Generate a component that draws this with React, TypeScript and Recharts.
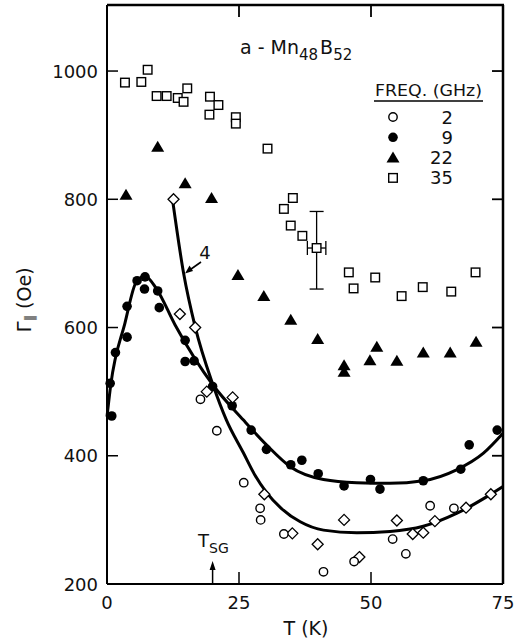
import { ComposedChart, Line, Scatter, XAxis, YAxis, ErrorBar } from 'recharts';

const FONT = '"DejaVu Sans", sans-serif';

// 2 GHz, open circles
const t2 = [17.7, 20.8, 25.9, 29.0, 29.1, 33.5, 41.0, 46.8, 54.1, 56.6, 61.2, 65.7];
const g2 = [488, 439, 358, 318, 300, 278, 219, 235, 270, 247, 322, 318];

// 4 GHz, open diamonds (curve "4")
const t4 = [12.6, 13.8, 16.7, 18.9, 23.8, 29.8, 35.1, 39.9, 44.9, 47.8, 54.9, 57.9, 59.9, 62.1, 68.0, 72.7];
const g4 = [800, 621, 600, 500, 491, 340, 279, 262, 300, 242, 299, 278, 280, 298, 319, 340];

// 9 GHz, filled circles
const t9 = [0.6, 0.9, 1.6, 3.8, 3.8, 5.7, 7.1, 7.2, 9.6, 9.9, 14.8, 14.8, 16.5, 20.0, 23.7, 27.3, 30.2, 34.8, 36.9, 40.0, 44.9, 49.9, 51.7, 59.9, 67.0, 68.6, 73.9];
const g9 = [513, 462, 561, 585, 633, 673, 660, 679, 657, 631, 580, 547, 548, 508, 478, 440, 410, 386, 393, 372, 353, 363, 348, 361, 379, 417, 440];

// 22 GHz, filled triangles
const t22 = [3.6, 9.6, 14.8, 19.8, 24.8, 29.7, 34.8, 39.9, 44.9, 44.9, 49.8, 51.1, 54.9, 59.9, 65.0, 69.9];
const g22 = [807, 882, 825, 802, 682, 649, 612, 582, 541, 531, 549, 570, 548, 561, 561, 578];

// 35 GHz, open squares
const t35 = [3.4, 6.5, 7.7, 9.4, 11.3, 13.4, 14.5, 15.2, 19.5, 21.1, 19.4, 24.4, 24.4, 30.4, 33.5, 35.2, 34.8, 37.0, 45.8, 46.7, 50.8, 55.8, 59.8, 65.2, 69.8];
const g35 = [982, 983, 1002, 961, 961, 958, 952, 973, 960, 947, 932, 928, 918, 879, 785, 802, 759, 743, 686, 661, 678, 649, 663, 656, 686];

// 35 GHz point carrying the error bars
const tErr = [39.7];
const gErr = [724];
const errT = [1.75];
const errG: [number, number][] = [[64, 57]];

// fitted curves
const tCurve4 = [12.4, 14.5, 16.7, 20.1, 22.6, 25.8, 28.0, 30.2, 33.0, 36.6, 41.0, 47.3, 53.6, 59.9, 66.2, 72.5, 75];
const gCurve4 = [800, 685, 601, 510, 456, 405, 370, 343, 318, 297, 284, 280, 282, 290, 310, 339, 352];
const tCurve9 = [0, 0.7, 3.4, 5.6, 7.2, 9.4, 12.9, 20.1, 25.8, 30.2, 34.7, 41.0, 47.3, 53.6, 59.9, 66.2, 71.3, 75];
const gCurve9 = [461, 510, 607, 672, 680, 660, 604, 510, 456, 417, 383, 363, 358, 357, 361, 378, 404, 435];

const xTicks = [0, 25, 50, 75];
const yTicks = [200, 400, 600, 800, 1000];
const topTicks = [25, 50];
const rightTicks = [400, 600, 800, 1000];
const legendLabels = ['2', '9', '22', '35'];

const X_MAX = 75;
const Y_MIN = 200;
const Y_MAX = 1103;

const pts = (ts: number[], gs: number[]) => ts.map((t, i) => ({ t, g: gs[i] }));
const errData = tErr.map((t, i) => ({ t, g: gErr[i], ex: errT[i], ey: errG[i] }));

const W = 515;
const H = 642;
// plot box, set by the chart margins and axis sizes below
const M = { top: 5, right: 12, left: 107, bottom: 58 };
const PL = M.left;
const PR = W - M.right;
const PT = M.top;
const PB = H - M.bottom;
const px = (t: number) => PL + (t / X_MAX) * (PR - PL);
const py = (g: number) => PB - ((g - Y_MIN) / (Y_MAX - Y_MIN)) * (PB - PT);

const openCircle = (p: any) => <circle cx={p.cx} cy={p.cy} r={4.2} fill="#fff" stroke="#000" strokeWidth={1.4} />;
const dot = (p: any) => <circle cx={p.cx} cy={p.cy} r={4.8} fill="#000" />;
const triangle = (p: any) => (
  <path d={`M${p.cx},${p.cy - 6}L${p.cx + 6.5},${p.cy + 5}L${p.cx - 6.5},${p.cy + 5}Z`} fill="#000" />
);
const square = (p: any) => (
  <rect x={p.cx - 4.3} y={p.cy - 4.3} width={8.6} height={8.6} fill="#fff" stroke="#000" strokeWidth={1.4} />
);
const diamond = (p: any) => (
  <path d={`M${p.cx},${p.cy - 5.5}L${p.cx + 5.5},${p.cy}L${p.cx},${p.cy + 5.5}L${p.cx - 5.5},${p.cy}Z`} fill="#fff" stroke="#000" strokeWidth={1.3} />
);

const LeftTick = (p: any) => {
  const { x, y, payload } = p;
  return (
    <g>
      {payload.value > Y_MIN && <line x1={x} y1={y} x2={x + 11} y2={y} stroke="#000" strokeWidth={1.5} />}
      <text x={x - 9} y={y} textAnchor="end" dominantBaseline="central" fontSize={18} fontFamily={FONT} fill="#111">
        {payload.value}
      </text>
    </g>
  );
};

const BottomTick = (p: any) => {
  const { x, y, payload } = p;
  const inner = payload.value > 0 && payload.value < X_MAX;
  return (
    <g>
      {inner && <line x1={x} y1={y} x2={x} y2={y - 12} stroke="#000" strokeWidth={1.5} />}
      <text x={x} y={y + 18} textAnchor="middle" dominantBaseline="central" fontSize={18} fontFamily={FONT} fill="#111">
        {payload.value}
      </text>
    </g>
  );
};

export default function App() {
  return (
    <div style={{ position: 'absolute', left: 0, top: 0, width: W, height: H, background: '#fff' }}>
      <ComposedChart width={W} height={H} margin={{ top: M.top, right: M.right, bottom: 0, left: 0 }}>
        <XAxis
          type="number"
          dataKey="t"
          domain={[0, X_MAX]}
          ticks={xTicks}
          height={M.bottom}
          tickSize={0}
          tickMargin={0}
          tickLine={false}
          tick={<BottomTick />}
          axisLine={{ stroke: '#000', strokeWidth: 2 }}
        />
        <YAxis
          type="number"
          dataKey="g"
          domain={[Y_MIN, Y_MAX]}
          ticks={yTicks}
          width={M.left}
          tickSize={0}
          tickMargin={0}
          tickLine={false}
          tick={<LeftTick />}
          axisLine={{ stroke: '#000', strokeWidth: 2 }}
          allowDataOverflow
        />

        <Line data={pts(tCurve4, gCurve4)} dataKey="g" type="monotone" stroke="#000" strokeWidth={3} dot={false} isAnimationActive={false} />
        <Line data={pts(tCurve9, gCurve9)} dataKey="g" type="monotone" stroke="#000" strokeWidth={3} dot={false} isAnimationActive={false} />

        <Scatter data={pts(t35, g35)} shape={square} isAnimationActive={false} />
        <Scatter data={errData} shape={square} isAnimationActive={false}>
          <ErrorBar dataKey="ey" direction="y" width={7} stroke="#000" strokeWidth={1.3} />
          <ErrorBar dataKey="ex" direction="x" width={7} stroke="#000" strokeWidth={1.3} />
        </Scatter>
        <Scatter data={pts(t22, g22)} shape={triangle} isAnimationActive={false} />
        <Scatter data={pts(t9, g9)} shape={dot} isAnimationActive={false} />
        <Scatter data={pts(t4, g4)} shape={diamond} isAnimationActive={false} />
        <Scatter data={pts(t2, g2)} shape={openCircle} isAnimationActive={false} />
      </ComposedChart>

      <svg width={W} height={H} style={{ position: 'absolute', left: 0, top: 0, pointerEvents: 'none' }} fontFamily={FONT} fill="#111">
        {/* full frame with inward ticks on top and right */}
        <line x1={PL} y1={PT} x2={PR + 1} y2={PT} stroke="#000" strokeWidth={2.5} />
        <line x1={PR} y1={PT} x2={PR} y2={PB} stroke="#000" strokeWidth={2.5} />
        {topTicks.map((v) => (
          <line key={`tt${v}`} x1={px(v)} y1={PT} x2={px(v)} y2={PT + 12} stroke="#000" strokeWidth={1.8} />
        ))}
        {rightTicks.map((v) => (
          <line key={`rt${v}`} x1={PR} y1={py(v)} x2={PR - 11} y2={py(v)} stroke="#000" strokeWidth={1.8} />
        ))}

        {/* title */}
        <text x={240} y={54} fontSize={19}>
          a - Mn<tspan fontSize={15} dy={6}>48</tspan>
          <tspan dy={-6} dx={2}>B</tspan>
          <tspan fontSize={15} dy={6}>52</tspan>
        </text>

        {/* legend */}
        <text x={375} y={96} fontSize={16} textLength={107} lengthAdjust="spacingAndGlyphs">FREQ. (GHz)</text>
        <line x1={374} y1={101} x2={483} y2={101} stroke="#000" strokeWidth={1.5} />
        {legendLabels.map((lab, i) => {
          const cy = 117 + i * 20.3;
          const p = { cx: 393, cy };
          return (
            <g key={lab}>
              {i === 0 && openCircle(p)}
              {i === 1 && dot(p)}
              {i === 2 && triangle(p)}
              {i === 3 && square(p)}
              <text x={453} y={cy} textAnchor="end" dominantBaseline="central" fontSize={18}>{lab}</text>
            </g>
          );
        })}

        {/* curve label */}
        <text x={205} y={252} textAnchor="middle" dominantBaseline="central" fontSize={18}>4</text>
        <line x1={201} y1={262} x2={189} y2={270.5} stroke="#000" strokeWidth={1.6} />
        <path d="M185,273.5 L189.5,265.5 L193,271 Z" fill="#000" />

        {/* T_SG marker */}
        <text x={198} y={547} fontSize={18}>
          T<tspan fontSize={14} dy={6}>SG</tspan>
        </text>
        <line x1={px(20)} y1={PB} x2={px(20)} y2={568} stroke="#000" strokeWidth={1.5} />
        <path d={`M${px(20)},561 L${px(20) - 3},570 L${px(20) + 3},570 Z`} fill="#000" />

        {/* axis titles */}
        <text transform="translate(24,300) rotate(-90)" textAnchor="middle" dominantBaseline="central" fontSize={20}>
          Γ<tspan fontSize={13} dy={5}>∥</tspan>
          <tspan dy={-5} fontSize={19}> (Oe)</tspan>
        </text>
        <text x={306} y={628} textAnchor="middle" dominantBaseline="central" fontSize={19}>T (K)</text>
      </svg>
    </div>
  );
}
